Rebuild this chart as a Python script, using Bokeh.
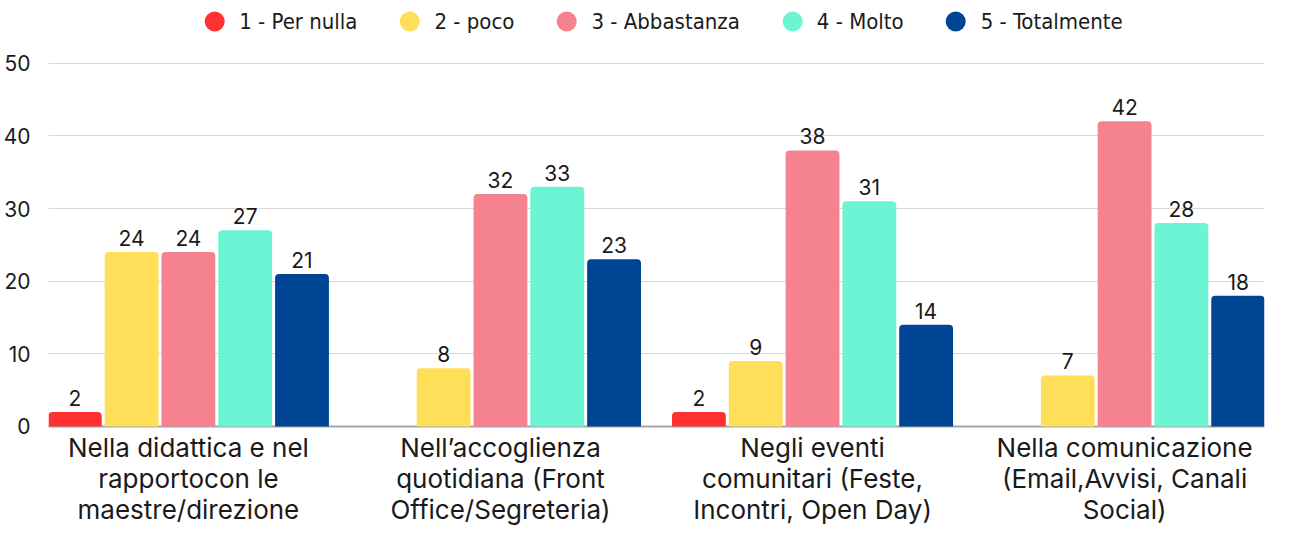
import numpy as np
from bokeh.plotting import figure
from bokeh.models import ColumnDataSource, Range1d, FixedTicker, Legend, LegendItem, Span
from bokeh.core.properties import value
from bokeh.embed import file_html
from bokeh.resources import INLINE

# ---- data ----
groups = [
    "Nella didattica e nel\nrapportocon le\nmaestre/direzione",
    "Nell\u2019accoglienza\nquotidiana (Front\nOffice/Segreteria)",
    "Negli eventi\ncomunitari (Feste,\nIncontri, Open Day)",
    "Nella comunicazione\n(Email,Avvisi, Canali\nSocial)",
]
series = ["1 - Per nulla", "2 - poco", "3 - Abbastanza", "4 - Molto", "5 - Totalmente"]
per_nulla = [2, 0, 2, 0]
poco = [24, 8, 9, 7]
abbastanza = [24, 32, 38, 42]
molto = [27, 33, 31, 28]
totalmente = [21, 23, 14, 18]
y_ticks = [0, 10, 20, 30, 40, 50]

values = [per_nulla, poco, abbastanza, molto, totalmente]
colors = ["#ff3131", "#ffde59", "#f5828f", "#6cf5d4", "#004494"]

FONT = "Inter"
LEGEND_FONT = "'Liberation Sans Narrow', 'DejaVu Sans Condensed', Inter"
STEP = 0.182      # bar step within a group (in group units)
WIDTH = 0.1725    # bar width
TRIM = 0.0517

p = figure(width=1285, height=525, output_backend="svg", toolbar_location=None,
           x_range=Range1d(-0.5 + TRIM, 3.5 - TRIM), y_range=Range1d(-13.63, 58.63),
           x_axis_location=None,
           min_border_left=43, min_border_right=21, min_border_top=0, min_border_bottom=0)
p.outline_line_color = None
p.background_fill_color = "white"
p.border_fill_color = "white"

gx = np.arange(len(groups))
legend_items = []
for i, (name, vals, col) in enumerate(zip(series, values, colors)):
    xs = gx + (i - 2) * STEP
    src = ColumnDataSource(dict(x=xs, top=vals, ly=np.array(vals) + 1.95,
                                lbl=[str(v) if v > 0 else "" for v in vals]))
    p.vbar(x="x", top="top", width=WIDTH, bottom=0, source=src, color=col,
           line_color=None, border_radius=(4, 4, 0, 0))
    p.text(x="x", y="ly", text="lbl", source=src, text_align="center",
           text_baseline="middle", text_font=value(FONT),
           text_font_size="21px", text_color="#1a1a1a")
    r = p.scatter(x=[-9], y=[-99], marker="circle", size=20, color=col, line_color=None)
    legend_items.append(LegendItem(label=name, renderers=[r]))

# category labels under the groups
lab_src = ColumnDataSource(dict(x=gx, y=np.full(len(groups), -0.7), text=groups))
p.text(x="x", y="y", text="text", source=lab_src, text_align="center",
       text_baseline="top", text_font=value(FONT), text_font_size="26px",
       text_line_height=1.0, text_color="#1a1a1a")

baseline = Span(location=0, dimension="width", line_color="#a6a6a6", line_width=2,
                level="underlay")
p.add_layout(baseline)

legend = Legend(items=legend_items, orientation="horizontal", location="top_center",
                label_text_font=LEGEND_FONT, label_text_font_size="22px",
                label_text_color="#1a1a1a",
                glyph_width=50, glyph_height=50, label_standoff=0, spacing=27,
                background_fill_alpha=0, border_line_color=None, margin=-4, padding=0)
p.add_layout(legend, "center")

# y axis
p.yaxis.ticker = FixedTicker(ticks=y_ticks)
p.ygrid.ticker = FixedTicker(ticks=y_ticks)
p.yaxis.axis_line_color = None
p.yaxis.major_tick_line_color = None
p.yaxis.minor_tick_line_color = None
p.yaxis.major_label_standoff = 12
p.yaxis.major_label_text_font = FONT
p.yaxis.major_label_text_font_size = "21px"
p.yaxis.major_label_text_color = "#1a1a1a"

p.xgrid.grid_line_color = None
p.ygrid.grid_line_color = "#d9d9d9"
p.ygrid.grid_line_width = 1

open("out.html", "w").write(file_html(p, INLINE))
